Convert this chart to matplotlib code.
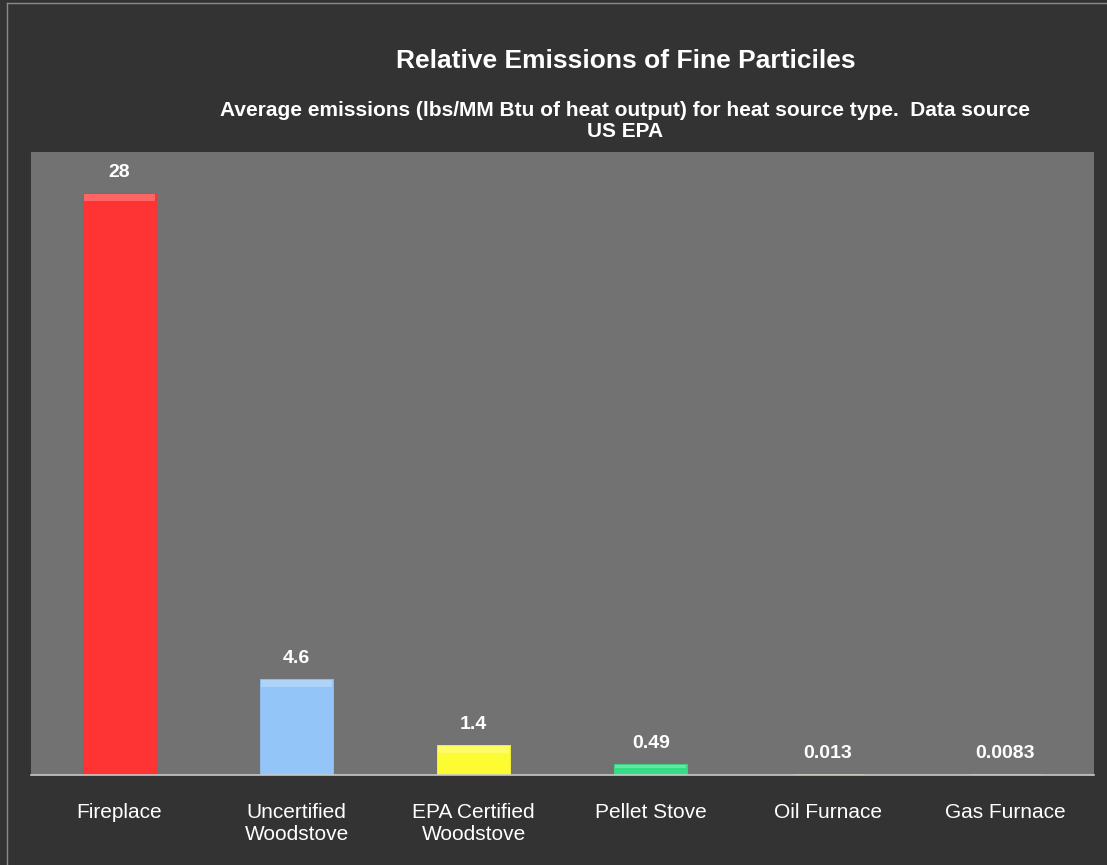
import numpy as np
import matplotlib.pyplot as plt
from matplotlib.lines import Line2D

plt.rcParams['font.family'] = ['Liberation Sans', 'DejaVu Sans']

# data
categories = ['Fireplace', 'Uncertified\nWoodstove', 'EPA Certified\nWoodstove',
              'Pellet Stove', 'Oil Furnace', 'Gas Furnace']
emissions = [28, 4.6, 1.4, 0.49, 0.013, 0.0083]
value_labels = ['28', '4.6', '1.4', '0.49', '0.013', '0.0083']
colors = ['#fe3333', '#93c5f8', '#fdfc33', '#35dd85', '#d8c860', '#d8b0c0']

fig = plt.figure(figsize=(11.07, 8.65), dpi=100, facecolor='#333333')
# thin light frame on top and left edge
fig.lines.append(Line2D([0.006, 1.0], [0.996, 0.996], transform=fig.transFigure,
                        color='#8a8a8a', linewidth=1))
fig.lines.append(Line2D([0.006, 0.006], [0.0, 0.996], transform=fig.transFigure,
                        color='#8a8a8a', linewidth=1))
ax = fig.add_axes([0.028, 0.104, 0.960, 0.720])
ax.set_facecolor('#727272')

x = np.arange(len(categories))
bars = ax.bar(x, emissions, width=0.40, color=colors, edgecolor=colors,
              linewidth=2, zorder=2)

# light bevel along top of each bar
for b in bars:
    top = b.get_height()
    if top > 0.3:
        h = min(0.35, top * 0.3)
        ax.bar(b.get_x() + b.get_width() / 2, h, width=b.get_width(),
               bottom=top - h, color='white', alpha=0.25, zorder=3)

for xi, v, lab in zip(x, emissions, value_labels):
    ax.annotate(lab, (xi, v), xytext=(0, 9), textcoords='offset points',
                ha='center', va='bottom', color='white', fontsize=14, fontweight='bold')

ax.set_xlim(-0.5, len(categories) - 0.5)
ax.set_ylim(0, 30)
ax.set_yticks([])
ax.set_xticks(x)
ax.set_xticklabels(categories, color='white', fontsize=15, linespacing=1.2)
ax.tick_params(axis='x', length=0, pad=20)
for side in ['top', 'left', 'right']:
    ax.spines[side].set_visible(False)
ax.spines['bottom'].set_color('#c8c8c8')
ax.spines['bottom'].set_linewidth(1.2)

fig.text(0.565, 0.930, 'Relative Emissions of Fine Particiles', ha='center', va='center',
         color='white', fontsize=19, fontweight='bold')
fig.text(0.565, 0.872, 'Average emissions (lbs/MM Btu of heat output) for heat source type.  Data source',
         ha='center', va='center', color='white', fontsize=15, fontweight='bold')
fig.text(0.565, 0.848, 'US EPA',
         ha='center', va='center', color='white', fontsize=15, fontweight='bold')

plt.savefig('out.png', dpi=100, facecolor=fig.get_facecolor())
